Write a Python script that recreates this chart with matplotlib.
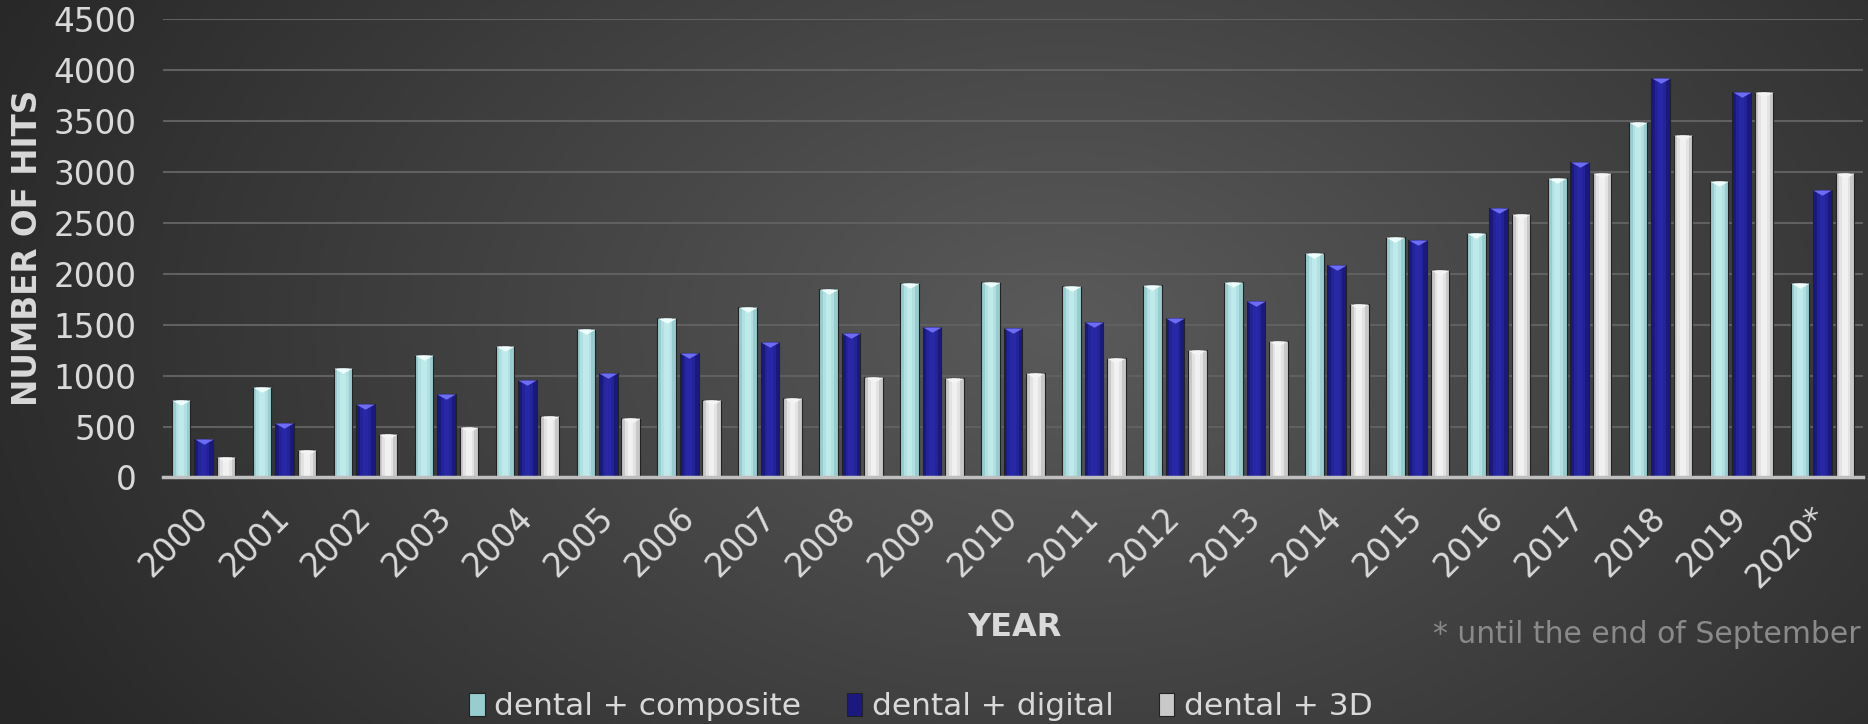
import numpy as np
import matplotlib.pyplot as plt
import matplotlib.transforms as mtransforms
from matplotlib.path import Path
from matplotlib.colors import LinearSegmentedColormap

# data
years = ["2000", "2001", "2002", "2003", "2004", "2005", "2006", "2007", "2008", "2009",
         "2010", "2011", "2012", "2013", "2014", "2015", "2016", "2017", "2018", "2019", "2020*"]
composite = [760, 885, 1075, 1200, 1290, 1455, 1570, 1670, 1845, 1905,
             1915, 1875, 1885, 1915, 2200, 2365, 2395, 2935, 3485, 2905, 1905]
digital = [375, 530, 720, 820, 955, 1030, 1220, 1330, 1420, 1480,
           1470, 1530, 1570, 1735, 2085, 2335, 2645, 3100, 3920, 3785, 2820]
dental_3d = [200, 270, 430, 495, 600, 585, 760, 780, 990, 980,
             1025, 1175, 1250, 1335, 1700, 2035, 2590, 2985, 3365, 3785, 2985]
series_names = ["dental + composite", "dental + digital", "dental + 3D"]

txt = "#d9d9d9"

fig = plt.figure(figsize=(18.68, 7.24), dpi=100)

# dark radial background
bg = fig.add_axes([0, 0, 1, 1], zorder=-10)
yy, xx = np.mgrid[0:1:300j, 0:1:800j]
d = np.sqrt(((xx - 0.57) / 0.64) ** 2 + ((yy - 0.45) / 1.1) ** 2)
shade = np.clip(1 - d, 0, 1)
bg_cmap = LinearSegmentedColormap.from_list("bg", ["#272727", "#5a5a5a"])
bg.imshow(shade, cmap=bg_cmap, aspect="auto", extent=[0, 1, 0, 1], vmin=0, vmax=1)
bg.axis("off")

ax = fig.add_axes([0.0873, 0.3405, 0.910, 0.6333])
ax.patch.set_visible(False)

x = np.arange(len(years))
w = 0.23
step = 0.277
# base, highlight, bevel colours
styles = [
    ("#98cdcf", "#cdf4f5", "#f0fdfd"),
    ("#191980", "#2e2eb4", "#6c6cf5"),
    ("#c8c8c8", "#ffffff", "#f4f4f4"),
]
bevel = Path([(-0.5, 0), (0.5, 0), (0, -0.28), (-0.5, 0)])

handles = []
for i, (vals, name, (base, hi, bev)) in enumerate(
        zip([composite, digital, dental_3d], series_names, styles)):
    pos = x + (i - 1) * step
    b = ax.bar(pos, vals, width=w, color=base, edgecolor="#222222",
               linewidth=0.8, label=name, zorder=3)
    ax.bar(pos, vals, width=w * 0.6, color=hi, alpha=0.5, linewidth=0, zorder=4)
    ax.bar(pos, vals, width=w * 0.3, color=hi, alpha=0.5, linewidth=0, zorder=4)
    ax.scatter(pos, vals, marker=bevel, s=180, color=bev, linewidths=0, zorder=5)
    handles.append(b)

ax.set_xlim(-0.5, len(years) - 0.5)
ax.set_ylim(0, 4500)
ax.set_yticks(np.arange(0, 4501, 500))
ax.set_xticks(x)
ax.set_xticklabels(years, rotation=45, ha="right", va="center", rotation_mode="anchor")
offset = mtransforms.ScaledTranslation(0.1, 0, fig.dpi_scale_trans)
for lbl in ax.get_xticklabels():
    lbl.set_transform(lbl.get_transform() + offset)

ax.tick_params(axis="y", length=0, pad=19, labelsize=23.5, labelcolor=txt)
ax.tick_params(axis="x", length=0, pad=25, labelsize=23.5, labelcolor=txt)
ax.set_axisbelow(True)
ax.yaxis.grid(True, color="#606060", linewidth=1.5)
for s in ["top", "right", "left"]:
    ax.spines[s].set_visible(False)
ax.spines["bottom"].set_color("#bfbfbf")
ax.spines["bottom"].set_linewidth(2.5)
ax.spines["bottom"].set_zorder(6)

fig.text(0.0145, 0.6575, "NUMBER OF HITS", rotation=90, fontsize=23.5,
         fontweight="bold", color=txt, ha="center", va="center")
fig.text(1014 / 1868, 0.1326, "YEAR", fontsize=23, fontweight="bold",
         color=txt, ha="center", va="center")
fig.text(0.9963, 0.123, "* until the end of September", fontsize=21.5,
         color="#8a8a8a", ha="right", va="center")

fig.legend(handles, series_names, loc="center", bbox_to_anchor=(0.493, 0.024),
           ncol=3, frameon=False, fontsize=22.5, labelcolor=txt,
           handlelength=0.5, handleheight=0.75, handletextpad=0.3,
           columnspacing=1.45)

fig.savefig("out.png", dpi=100)
